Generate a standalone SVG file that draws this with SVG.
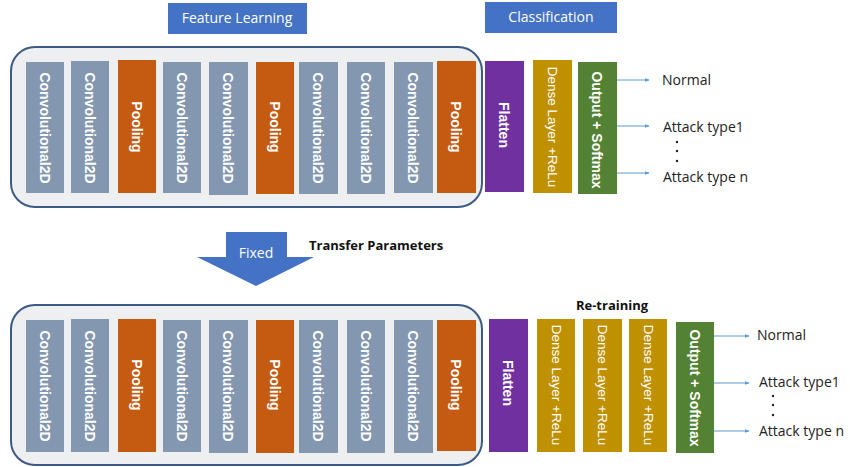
<svg xmlns="http://www.w3.org/2000/svg" width="850" height="467" viewBox="0 0 850 467">
<style>
.cont{fill:#eeeff1;stroke:#3c5a85;stroke-width:2}
.conv{fill:#8497b0}
.pool{fill:#c55a11}
.flat{fill:#7030a0}
.dense{fill:#bf9000}
.out{fill:#548235}
.hdr{fill:#4472c4}
.vt{font-family:"Liberation Sans",Arial,sans-serif;font-size:14px;font-weight:bold;fill:#fff;text-anchor:middle;dominant-baseline:central}
.vtr{font-family:"Liberation Sans",Arial,sans-serif;font-size:13.5px;fill:#fff;text-anchor:middle;dominant-baseline:central}
.ht{font-family:"Open Sans","Liberation Sans",sans-serif;font-size:14px;fill:#fff;text-anchor:middle}
.lbl{font-family:"Open Sans","Liberation Sans",sans-serif;font-size:14px;fill:#222}
.bl{font-family:"Open Sans","Liberation Sans",sans-serif;font-size:13px;font-weight:bold;fill:#111}
.arr{stroke:#5b9bd5;stroke-width:1;fill:none;marker-end:url(#ah)}
</style>
<defs>
<marker id="ah" viewBox="0 0 10 10" refX="9" refY="5" markerWidth="5" markerHeight="5" orient="auto">
<path d="M0,1 L10,5 L0,9 z" fill="#5b9bd5"/>
</marker>
</defs>
<rect width="850" height="467" fill="#fff"/>

<g id="feature-learning-label"><rect class="hdr" x="168" y="3" width="139" height="31"/><text class="ht" x="237" y="23">Feature Learning</text></g>
<g id="classification-label"><rect class="hdr" x="485" y="2" width="132" height="31"/><text class="ht" x="551" y="22">Classification</text></g>

<g id="top-container"><rect class="cont" x="11" y="47" width="471" height="160" rx="24"/></g>
<g id="t-conv1"><rect class="conv" x="26" y="62" width="38" height="131"/><text class="vt" transform="translate(45,128) rotate(90)">Convolutional2D</text></g>
<g id="t-conv2"><rect class="conv" x="71" y="61" width="38" height="132"/><text class="vt" transform="translate(90,128) rotate(90)">Convolutional2D</text></g>
<g id="t-pool1"><rect class="pool" x="118" y="60" width="38" height="133"/><text class="vt" transform="translate(137,127) rotate(90)">Pooling</text></g>
<g id="t-conv3"><rect class="conv" x="163" y="62" width="38" height="131"/><text class="vt" transform="translate(182,128) rotate(90)">Convolutional2D</text></g>
<g id="t-conv4"><rect class="conv" x="209" y="62" width="39" height="133"/><text class="vt" transform="translate(228,128) rotate(90)">Convolutional2D</text></g>
<g id="t-pool2"><rect class="pool" x="256" y="62" width="38" height="132"/><text class="vt" transform="translate(275,127) rotate(90)">Pooling</text></g>
<g id="t-conv5"><rect class="conv" x="299" y="62" width="39" height="132"/><text class="vt" transform="translate(318,128) rotate(90)">Convolutional2D</text></g>
<g id="t-conv6"><rect class="conv" x="347" y="62" width="38" height="132"/><text class="vt" transform="translate(366,128) rotate(90)">Convolutional2D</text></g>
<g id="t-conv7"><rect class="conv" x="394" y="62" width="39" height="131"/><text class="vt" transform="translate(413,128) rotate(90)">Convolutional2D</text></g>
<g id="t-pool3"><rect class="pool" x="437" y="61" width="39" height="132"/><text class="vt" transform="translate(456,127) rotate(90)">Pooling</text></g>
<g id="t-flatten"><rect class="flat" x="485" y="61" width="39" height="131"/><text class="vt" transform="translate(504,125) rotate(90)">Flatten</text></g>
<g id="t-dense"><rect class="dense" x="533" y="60" width="39" height="133"/><text class="vtr" transform="translate(552,127) rotate(90)">Dense Layer +ReLu</text></g>
<g id="t-output"><rect class="out" x="578" y="62" width="39" height="132"/><text class="vt" transform="translate(597,130) rotate(90)">Output + Softmax</text></g>

<g id="t-outputs">
<text class="lbl" x="662" y="85">Normal</text>
<text class="lbl" x="663" y="132">Attack type1</text>
<text class="lbl" x="663" y="182">Attack type n</text>
<circle cx="677" cy="142" r="1.2" fill="#222"/><circle cx="677" cy="151" r="1.2" fill="#222"/><circle cx="677" cy="161" r="1.2" fill="#222"/>
</g>

<g id="fixed-arrow">
<path d="M226,232 L287,232 L287,257 L314,257 L256,286 L197,257 L226,257 Z" fill="#4472c4"/>
<text class="ht" x="256" y="258">Fixed</text>
</g>
<g id="transfer-label"><text class="bl" x="309" y="250">Transfer Parameters</text></g>
<g id="retraining-label"><text class="bl" x="612" y="310" text-anchor="middle">Re-training</text></g>

<g id="bottom-container"><rect class="cont" x="11" y="305" width="471" height="160" rx="24"/></g>
<g id="b-conv1"><rect class="conv" x="26" y="320" width="38" height="132"/><text class="vt" transform="translate(45,386) rotate(90)">Convolutional2D</text></g>
<g id="b-conv2"><rect class="conv" x="71" y="319" width="38" height="133"/><text class="vt" transform="translate(90,386) rotate(90)">Convolutional2D</text></g>
<g id="b-pool1"><rect class="pool" x="118" y="319" width="38" height="133"/><text class="vt" transform="translate(137,385) rotate(90)">Pooling</text></g>
<g id="b-conv3"><rect class="conv" x="163" y="320" width="38" height="132"/><text class="vt" transform="translate(182,386) rotate(90)">Convolutional2D</text></g>
<g id="b-conv4"><rect class="conv" x="209" y="320" width="39" height="133"/><text class="vt" transform="translate(228,386) rotate(90)">Convolutional2D</text></g>
<g id="b-pool2"><rect class="pool" x="256" y="320" width="38" height="133"/><text class="vt" transform="translate(275,385) rotate(90)">Pooling</text></g>
<g id="b-conv5"><rect class="conv" x="299" y="320" width="39" height="133"/><text class="vt" transform="translate(318,386) rotate(90)">Convolutional2D</text></g>
<g id="b-conv6"><rect class="conv" x="347" y="320" width="38" height="133"/><text class="vt" transform="translate(366,386) rotate(90)">Convolutional2D</text></g>
<g id="b-conv7"><rect class="conv" x="394" y="320" width="39" height="133"/><text class="vt" transform="translate(413,386) rotate(90)">Convolutional2D</text></g>
<g id="b-pool3"><rect class="pool" x="437" y="320" width="39" height="131"/><text class="vt" transform="translate(456,385) rotate(90)">Pooling</text></g>
<g id="b-flatten"><rect class="flat" x="489" y="319" width="39" height="133"/><text class="vt" transform="translate(508,383) rotate(90)">Flatten</text></g>
<g id="b-dense1"><rect class="dense" x="537" y="319" width="38" height="133"/><text class="vtr" transform="translate(556,385) rotate(90)">Dense Layer +ReLu</text></g>
<g id="b-dense2"><rect class="dense" x="583" y="319" width="39" height="133"/><text class="vtr" transform="translate(602,385) rotate(90)">Dense Layer +ReLu</text></g>
<g id="b-dense3"><rect class="dense" x="629" y="319" width="38" height="133"/><text class="vtr" transform="translate(648,385) rotate(90)">Dense Layer +ReLu</text></g>
<g id="b-output"><rect class="out" x="676" y="322" width="38" height="131"/><text class="vt" transform="translate(695,388) rotate(90)">Output + Softmax</text></g>

<g id="b-outputs">
<text class="lbl" x="757" y="340">Normal</text>
<text class="lbl" x="759" y="387">Attack type1</text>
<text class="lbl" x="759" y="436">Attack type n</text>
<circle cx="773" cy="396" r="1.2" fill="#222"/><circle cx="773" cy="405" r="1.2" fill="#222"/><circle cx="773" cy="415" r="1.2" fill="#222"/>
</g>

<g id="connectors">
<line class="arr" x1="617" y1="80" x2="649" y2="80"/>
<line class="arr" x1="617" y1="126" x2="649" y2="126"/>
<line class="arr" x1="617" y1="173" x2="649" y2="173"/>
<line class="arr" x1="714" y1="336" x2="749" y2="336"/>
<line class="arr" x1="714" y1="383" x2="749" y2="383"/>
<line class="arr" x1="714" y1="431" x2="749" y2="431"/>
</g>
</svg>
